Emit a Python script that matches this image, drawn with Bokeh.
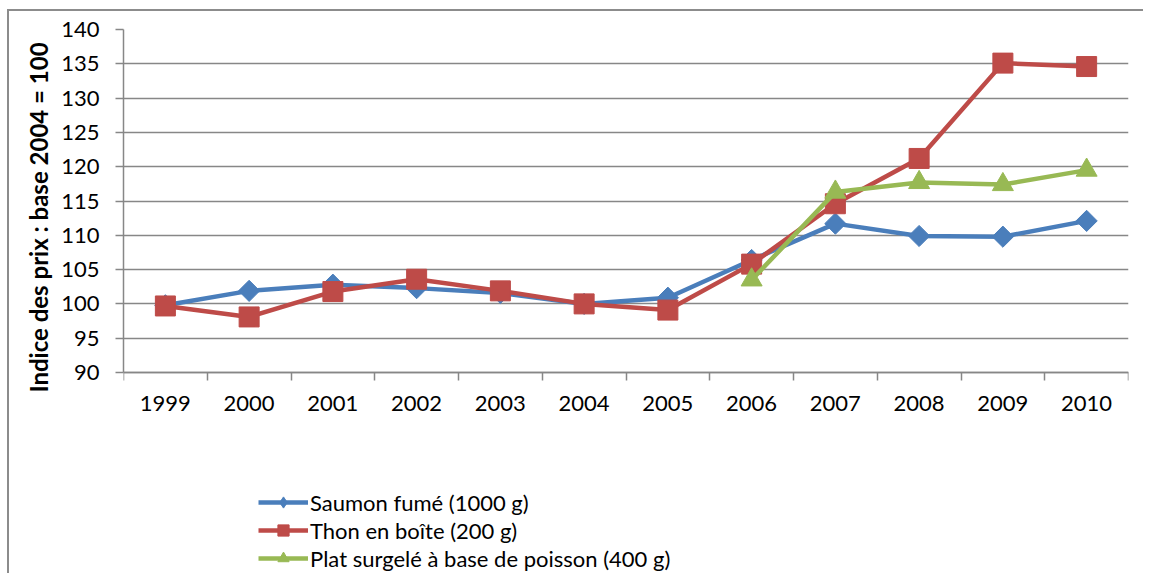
from bokeh.plotting import figure
from bokeh.models import FixedTicker, Range1d, Legend, LegendItem, Title
from bokeh.embed import file_html
from bokeh.resources import INLINE
import math

years = [1999, 2000, 2001, 2002, 2003, 2004, 2005, 2006, 2007, 2008, 2009, 2010]
saumon = [99.8, 101.9, 102.8, 102.3, 101.6, 100.0, 100.9, 106.4, 111.7, 109.9, 109.8, 112.1]
thon = [99.7, 98.1, 101.8, 103.6, 101.9, 100.0, 99.1, 105.8, 114.6, 121.2, 135.1, 134.6]
plat_years = [2006, 2007, 2008, 2009, 2010]
plat = [103.5, 116.3, 117.7, 117.4, 119.5]
y_ticks = [90, 95, 100, 105, 110, 115, 120, 125, 130, 135, 140]

labels = ["Saumon fumé (1000 g)", "Thon en boîte (200 g)", "Plat surgelé à base de poisson (400 g)"]
y_title = "Indice des prix : base 2004 = 100"
colors = ["#4A7EBB", "#BE4B48", "#98B954"]
GRAY = "#878787"
FONT = "Lato"
FS = "22px"

# layout (pixels): the frame runs to the bottom of the canvas so that the legend
# can sit inside it, below the value area (90..140 uses the top 343 px)
W, H = 1136, 564
TOP, LEFT, RIGHT = 18, 114, 17
FRAME_H = H - TOP
DATA_H = 343
y0, y1 = y_ticks[0], y_ticks[-1]
y_start = y0 - (FRAME_H - DATA_H) / DATA_H * (y1 - y0)

p = figure(width=W, height=H, output_backend="svg", toolbar_location=None,
           x_range=Range1d(years[0] - 0.5, years[-1] + 0.5),
           y_range=Range1d(y_start, y1),
           min_border_left=LEFT, min_border_right=RIGHT, min_border_top=TOP, min_border_bottom=0)
p.styles = {"border-left": "2px solid #8c8c8c", "border-top": "2px solid #8c8c8c",
            "margin-top": "9px", "margin-left": "7px"}
p.outline_line_color = None
p.background_fill_color = "white"
p.border_fill_color = "white"

# Y axis
p.yaxis.ticker = FixedTicker(ticks=y_ticks)
p.yaxis.bounds = (y0, y1)
p.yaxis.major_tick_out = 8
p.yaxis.major_tick_in = 0
p.yaxis.minor_tick_out = 0
p.yaxis.minor_tick_in = 0
p.yaxis.axis_line_color = GRAY
p.yaxis.axis_line_width = 1.5
p.yaxis.major_tick_line_color = GRAY
p.yaxis.major_tick_line_width = 1.5
p.yaxis.major_label_standoff = 16
p.yaxis.major_label_text_font = FONT
p.yaxis.major_label_text_font_size = FS
p.yaxis.major_label_text_color = "black"

ytitle = Title(text=y_title, align="left", offset=183, standoff=12,
               text_font=FONT, text_font_size="24px", text_font_style="bold",
               text_color="black")
p.add_layout(ytitle, "left")

# X axis, placed at the bottom of the value area
minor = [y - 0.5 for y in years] + [years[-1] + 0.5]
p.xaxis.fixed_location = y0
p.xaxis.ticker = FixedTicker(ticks=years, minor_ticks=minor)
p.xaxis.major_tick_out = 0
p.xaxis.major_tick_in = 0
p.xaxis.minor_tick_out = 8
p.xaxis.minor_tick_in = 0
p.xaxis.minor_tick_line_color = GRAY
p.xaxis.minor_tick_line_width = 1.5
p.xaxis.axis_line_color = GRAY
p.xaxis.axis_line_width = 1.5
p.xaxis.major_label_standoff = 15
p.xaxis.major_label_text_font = FONT
p.xaxis.major_label_text_font_size = FS
p.xaxis.major_label_text_color = "black"

p.xgrid.visible = False
p.ygrid.grid_line_color = GRAY
p.ygrid.grid_line_width = 1.5

lw = 4.5
l1 = p.line(years, saumon, line_color=colors[0], line_width=lw)
s1 = p.scatter(years, saumon, marker="square", size=15, angle=math.pi / 4,
               fill_color=colors[0], line_color=colors[0])
# same points as a diamond marker: only used for the legend swatch
d1 = p.scatter(years, saumon, marker="diamond", size=20,
               fill_color=colors[0], line_color=colors[0], visible=False)
l2 = p.line(years, thon, line_color=colors[1], line_width=lw)
s2 = p.scatter(years, thon, marker="square", size=20, fill_color=colors[1], line_color=colors[1])
l3 = p.line(plat_years, plat, line_color=colors[2], line_width=lw)
s3 = p.scatter(plat_years, plat, marker="triangle", size=21, fill_color=colors[2], line_color=colors[2])

legend = Legend(items=[LegendItem(label=labels[0], renderers=[l1, d1]),
                       LegendItem(label=labels[1], renderers=[l2, s2]),
                       LegendItem(label=labels[2], renderers=[l3, s3])],
                location=(135, 3), orientation="vertical")
legend.glyph_width = 50
legend.glyph_height = 28
legend.label_height = 28
legend.spacing = 0
legend.label_standoff = 2
legend.padding = 0
legend.margin = 0
legend.border_line_color = None
legend.background_fill_alpha = 0
legend.label_text_font = FONT
legend.label_text_font_size = FS
legend.label_text_color = "black"
p.add_layout(legend, "center")

open("out.html", "w").write(file_html(p, INLINE))
